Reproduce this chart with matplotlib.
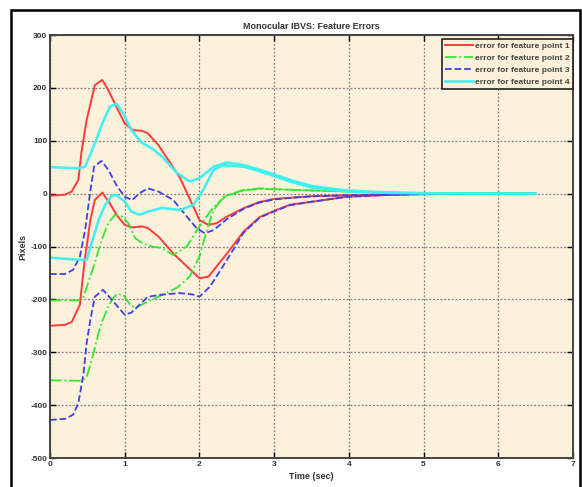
import matplotlib.pyplot as plt
from matplotlib.patches import Rectangle

# ---------------------------------------------------------
# Data (time in sec, error in pixels)
# ---------------------------------------------------------

# feature point 1 (red)
t_r1 = [0, 0.2, 0.29, 0.38, 0.42, 0.49, 0.6, 0.7, 0.78, 0.89, 1.0, 1.11, 1.23, 1.31,
        1.45, 1.67, 1.74, 1.94, 2.0, 2.12, 2.23, 2.36, 2.6, 2.8, 3.0, 3.3, 3.5, 4.0,
        4.5, 5.0, 5.5, 6.5]
v_r1 = [-4, -2, 4, 26, 77, 139, 205, 215, 196, 164, 133, 120, 119, 114,
        92, 45, 30, -31, -50, -59, -56, -44, -27, -16, -10, -7, -5, -3,
        -1.5, -0.5, -0.2, 0]
t_r2 = [0, 0.2, 0.29, 0.36, 0.4, 0.46, 0.54, 0.6, 0.7, 0.8, 0.89, 1.0, 1.1, 1.23,
        1.31, 1.45, 1.67, 2.0, 2.12, 2.37, 2.59, 2.81, 3.03, 3.21, 3.52, 3.97, 4.5,
        5.0, 5.5, 6.5]
v_r2 = [-250, -248, -243, -222, -210, -131, -50, -12, 2, -18, -40, -59, -64, -62,
        -65, -81, -116, -160, -157, -113, -72, -44, -31, -21, -15, -6, -2.5,
        -1, -0.3, 0]

# feature point 2 (green)
t_g1 = [0, 0.38, 0.45, 0.51, 0.6, 0.69, 0.78, 0.87, 0.96, 1.05, 1.14, 1.23, 1.36,
        1.5, 1.65, 1.83, 2.0, 2.19, 2.37, 2.59, 2.81, 3.08, 3.5, 3.97, 4.5, 5.0, 6.5]
v_g1 = [-202, -202, -195, -169, -131, -88, -56, -40, -43, -56, -84, -93, -100,
        -103, -116, -100, -62, -25, -3, 7, 10, 8, 6, 4, 2, 0.5, 0]
t_g2 = [0, 0.42, 0.49, 0.56, 0.65, 0.69, 0.78, 0.83, 0.89, 0.98, 1.07, 1.14, 1.27,
        1.45, 1.7, 1.87, 2.0, 2.1, 2.19, 2.32, 2.59, 2.81, 3.08, 3.5, 3.97, 4.5,
        5.0, 6.5]
v_g2 = [-353, -354, -347, -314, -264, -245, -213, -201, -190, -191, -210, -216,
        -207, -195, -178, -157, -119, -69, -31, -6, 6, 9, 8, 6, 4, 2, 0.5, 0]

# feature point 3 (blue)
t_b1 = [0, 0.2, 0.31, 0.4, 0.47, 0.54, 0.59, 0.69, 0.78, 0.89, 1.0, 1.1, 1.2, 1.31,
        1.45, 1.65, 1.83, 1.96, 2.07, 2.19, 2.37, 2.6, 2.8, 3.0, 3.3, 3.5, 4.0, 4.5,
        5.0, 5.5, 6.5]
v_b1 = [-152, -152, -144, -119, -69, 5, 51, 62, 45, 16, -6, -12, 1, 10,
        4, -12, -43, -65, -75, -69, -48, -28, -17, -11, -7, -5, -3, -1.5,
        -0.5, -0.2, 0]
t_b2 = [0, 0.2, 0.31, 0.38, 0.45, 0.49, 0.54, 0.6, 0.71, 0.83, 0.92, 1.0, 1.09, 1.2,
        1.31, 1.5, 1.74, 1.92, 2.0, 2.14, 2.37, 2.59, 2.81, 3.03, 3.21, 3.52, 3.97,
        4.5, 5.0, 5.5, 6.5]
v_b2 = [-428, -426, -418, -396, -339, -283, -239, -195, -182, -201, -216, -229, -225,
        -210, -195, -191, -188, -191, -195, -176, -125, -74, -45, -32, -22, -15, -6,
        -2.5, -1, -0.3, 0]

# feature point 4 (cyan)
t_c1 = [0, 0.38, 0.47, 0.6, 0.71, 0.8, 0.89, 0.98, 1.09, 1.23, 1.36, 1.5, 1.7, 1.87,
        2.0, 2.19, 2.37, 2.59, 2.81, 3.03, 3.21, 3.52, 3.97, 4.5, 5.0, 5.5, 6.5]
v_c1 = [50, 48, 51, 95, 136, 164, 170, 152, 120, 96, 86, 70, 39, 23,
        29, 51, 59, 54, 45, 35, 26, 14, 6, 2.5, 1, 0.3, 0]
t_c2 = [0, 0.38, 0.49, 0.56, 0.65, 0.74, 0.83, 0.89, 1.0, 1.09, 1.2, 1.31, 1.5, 1.74,
        1.92, 2.05, 2.19, 2.32, 2.59, 2.81, 3.03, 3.21, 3.52, 3.97, 4.5, 5.0, 5.5, 6.5]
v_c2 = [-121, -125, -125, -93, -50, -21, -3, -3, -15, -34, -40, -34, -27, -31,
        -21, 7, 45, 54, 51, 42, 32, 23, 11, 4, 1.5, 0.5, 0.2, 0]

labels = ["error for feature point 1", "error for feature point 2",
          "error for feature point 3", "error for feature point 4"]
x_ticks = [0, 1, 2, 3, 4, 5, 6, 7]
y_ticks = [-500, -400, -300, -200, -100, 0, 100, 200, 300]

# ---------------------------------------------------------
# Plot
# ---------------------------------------------------------
plt.rcParams["font.family"] = ["Liberation Sans", "DejaVu Sans"]
plt.rcParams["axes.unicode_minus"] = False

fig = plt.figure(figsize=(5.82, 4.87), dpi=100)
fig.patch.set_facecolor("white")
ax = fig.add_axes([0.0859, 0.0595, 0.8986, 0.8686])
ax.set_facecolor("#fcf1da")

red, green, blue, cyan = "#ff3b3b", "#33e633", "#3f3fe6", "#3ff0f0"

l1, = ax.plot(t_r1, v_r1, color=red, lw=1.4, label=labels[0])
ax.plot(t_r2, v_r2, color=red, lw=1.4)
l2, = ax.plot(t_g1, v_g1, color=green, lw=1.3, ls="-.", label=labels[1])
ax.plot(t_g2, v_g2, color=green, lw=1.3, ls="-.")
l3, = ax.plot(t_b1, v_b1, color=blue, lw=1.3, ls="--", label=labels[2])
ax.plot(t_b2, v_b2, color=blue, lw=1.3, ls="--")
l4, = ax.plot(t_c1, v_c1, color=cyan, lw=1.8, label=labels[3])
ax.plot(t_c2, v_c2, color=cyan, lw=1.8)

ax.set_xlim(0, 7)
ax.set_ylim(-500, 300)
ax.set_xticks(x_ticks)
ax.set_yticks(y_ticks)
ax.grid(True, color="#808080", ls=(0, (1.5, 1.5)), lw=0.9)
ax.tick_params(direction="in", top=True, right=True, length=4, width=1,
               labelsize=6, labelcolor="#333333", pad=2)
for lab in ax.get_xticklabels() + ax.get_yticklabels():
    lab.set_fontweight("bold")
for sp in ax.spines.values():
    sp.set_color("#444444")
    sp.set_linewidth(1.4)

ax.set_title("Monocular IBVS: Feature Errors", fontsize=6.5, fontweight="bold",
             color="#333333", pad=4)
ax.set_xlabel("Time (sec)", fontsize=6.5, fontweight="bold", color="#333333", labelpad=3)
ax.set_ylabel("Pixels", fontsize=6.5, fontweight="bold", color="#333333", labelpad=2)

leg = ax.legend(handles=[l1, l2, l3, l4], loc="upper right",
                bbox_to_anchor=(1.0, 0.99), borderaxespad=0, fancybox=False,
                prop={"family": ["Liberation Sans"], "size": 6, "weight": "bold"},
                handlelength=3.4, handletextpad=0.3, labelspacing=0.5, borderpad=0.35)
leg.get_frame().set_edgecolor("#222222")
leg.get_frame().set_linewidth(1.2)
leg.get_frame().set_facecolor("#fcf1da")
leg.get_frame().set_alpha(1)
for txt in leg.get_texts():
    txt.set_color("#444444")

# outer frame of the screenshot
fig.patches.append(Rectangle((11 / 582, -0.01), 569 / 582, 1 - 10 / 487 + 0.01,
                             transform=fig.transFigure, fill=False,
                             edgecolor="black", lw=1.8))

fig.savefig("out.png", dpi=100)
